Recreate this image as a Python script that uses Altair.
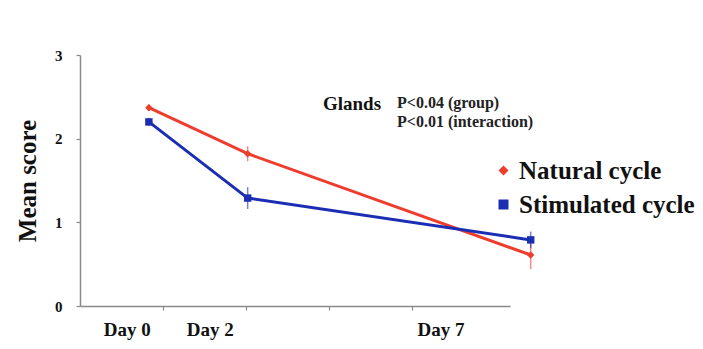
import altair as alt
import pandas as pd

# ---- data ----
days = ["Day 0", "Day 2", "Day 7"]
day_pos = [0.83, 2.02, 5.43]          # where the points sit on the x scale
label_pos = [0.57, 1.57, 4.35]        # where the day labels sit on the x scale
series = ["Natural cycle", "Stimulated cycle"]
natural = [2.37, 1.82, 0.61]
natural_err = [0.04, 0.09, 0.17]
stimulated = [2.20, 1.29, 0.79]
stimulated_err = [0.05, 0.13, 0.10]
x_ticks = [1, 2, 3, 4]
y_ticks = [0, 1, 2, 3]

RED = "#ef3d2d"
BLUE = "#1b2db3"
FONT = "Liberation Serif"

rows = []
for s, vals, errs in [(series[0], natural, natural_err), (series[1], stimulated, stimulated_err)]:
    for d, p, v, e in zip(days, day_pos, vals, errs):
        rows.append({"series": s, "day": d, "pos": p, "score": v, "lo": v - e, "hi": v + e})
df = pd.DataFrame(rows)
labels_df = pd.DataFrame({"day": days, "pos": label_pos})

W, H = 430, 251
xscale = alt.Scale(domain=[0, W / 83.0], nice=False, zero=False)
yscale = alt.Scale(domain=[0, 3], nice=False)

legend = alt.Legend(title=None, orient="none", legendX=411, legendY=103,
                    labelFont=FONT, labelFontSize=25, labelFontWeight="bold",
                    labelColor="#111", labelLimit=0, symbolSize=100, symbolStrokeWidth=0,
                    symbolOpacity=1, labelOffset=3, rowPadding=8)
color = alt.Color("series:N", scale=alt.Scale(domain=series, range=[RED, BLUE]), legend=legend)

base = alt.Chart(df)

lines = base.mark_line(strokeWidth=3).encode(
    x=alt.X("pos:Q", scale=xscale,
            axis=alt.Axis(values=x_ticks, labels=False, title=None, grid=False,
                          domainColor="#8a8a8a", domainWidth=1.5, tickColor="#8a8a8a",
                          tickSize=4, tickWidth=1.2)),
    y=alt.Y("score:Q", scale=yscale,
            axis=alt.Axis(values=y_ticks, format="d", title="Mean score", grid=False,
                          titleFont=FONT, titleFontSize=25, titleFontWeight="bold",
                          titleColor="#111", titleAngle=270, titleX=-53, titleY=H / 2,
                          titleAlign="center", titleBaseline="middle",
                          labelFont=FONT, labelFontSize=15, labelFontWeight="bold",
                          labelColor="#111", labelPadding=14,
                          domainColor="#8a8a8a", domainWidth=1.5, tickColor="#8a8a8a",
                          tickSize=4, tickWidth=1.2)),
    color=color,
    detail="series:N",
)

errs = base.mark_rule(strokeWidth=1.5, opacity=0.6).encode(
    x=alt.X("pos:Q"),
    y=alt.Y("lo:Q"),
    y2="hi:Q",
    color=color,
)

points = base.mark_point(filled=True, size=55, opacity=1).encode(
    x=alt.X("pos:Q"),
    y=alt.Y("score:Q"),
    color=color,
    shape=alt.Shape("series:N", scale=alt.Scale(domain=series, range=["diamond", "square"]),
                    legend=legend),
)

day_labels = alt.Chart(labels_df).mark_text(
    font=FONT, fontSize=19, fontWeight="bold", color="#111", baseline="alphabetic"
).encode(
    x=alt.X("pos:Q"),
    y=alt.value(281),
    text="day:N",
)

glands = alt.Chart(pd.DataFrame({"t": ["Glands"]})).mark_text(
    font=FONT, fontSize=19, fontWeight="bold", color="#111", align="left", baseline="alphabetic"
).encode(x=alt.value(243), y=alt.value(55), text="t:N")

p1 = alt.Chart(pd.DataFrame({"t": ["P<0.04 (group)"]})).mark_text(
    font=FONT, fontSize=16, fontWeight="bold", color="#222", align="left", baseline="alphabetic"
).encode(x=alt.value(317), y=alt.value(53), text="t:N")

p2 = alt.Chart(pd.DataFrame({"t": ["P<0.01 (interaction)"]})).mark_text(
    font=FONT, fontSize=16, fontWeight="bold", color="#222", align="left", baseline="alphabetic"
).encode(x=alt.value(317), y=alt.value(72), text="t:N")

chart = alt.layer(lines, errs, points, day_labels, glands, p1, p2).properties(
    width=W, height=H,
    autosize=alt.AutoSizeParams(type="none"),
    padding={"left": 72, "top": 47, "right": 185, "bottom": 35},
    background="white",
).configure_view(stroke=None)

chart.save("out.html", embed_options={"renderer": "svg", "actions": False})
